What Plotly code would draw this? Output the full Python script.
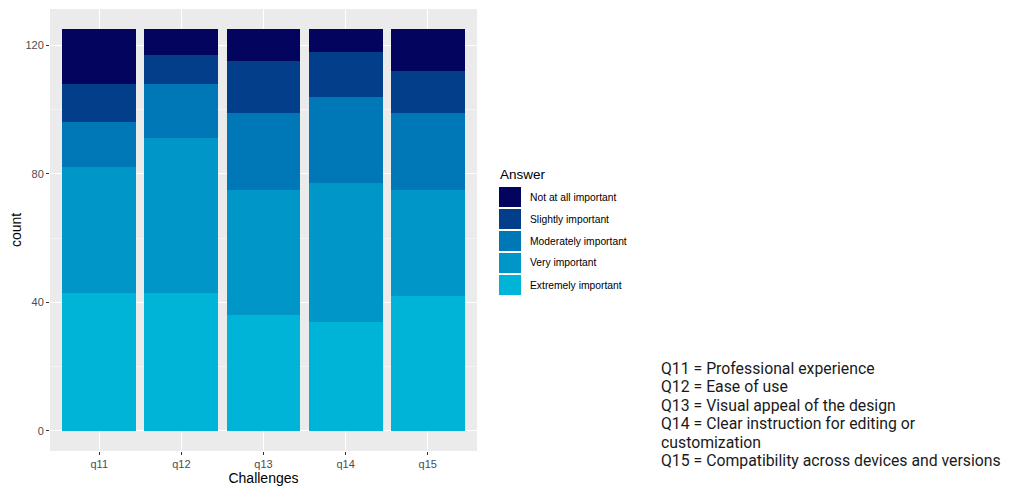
import plotly.graph_objects as go

# ---- data ----
challenges = ["q11", "q12", "q13", "q14", "q15"]
answers = ["Extremely important", "Very important", "Moderately important",
           "Slightly important", "Not at all important"]
extremely = [43, 43, 36, 34, 42]
very = [39, 48, 39, 43, 33]
moderately = [14, 17, 24, 27, 24]
slightly = [12, 9, 16, 14, 13]
not_at_all = [17, 8, 10, 7, 13]
y_ticks = [0, 40, 80, 120]
notes = ["Q11 = Professional experience",
         "Q12 = Ease of use",
         "Q13 = Visual appeal of the design",
         "Q14 = Clear instruction for editing or",
         "customization",
         "Q15 = Compatibility across devices and versions"]

series = [extremely, very, moderately, slightly, not_at_all]
colors = ["#00b4d8", "#0096c7", "#0077b6", "#023e8a", "#03045e"]

# the page body has an 8px margin; work in screen pixels and shift
OFF = 8
W, H = 1024 - OFF, 492 - OFF
PL, PR, PT, PB = 50, 477, 9, 451  # panel edges in screen pixels
L, T = PL - OFF, PT - OFF
R = W - (PR - OFF)
B = H - (PB - OFF)
pw, ph = PR - PL, PB - PT


def px(x):
    return (x - PL) / pw


def py(y):
    return 1 - (y - PT) / ph


fig = go.Figure()
for name, vals, col in zip(answers, series, colors):
    fig.add_trace(go.Bar(x=challenges, y=vals, name=name, marker_color=col,
                         marker_line_width=0, width=0.9, showlegend=False))

total = max(sum(v) for v in zip(*series))
pad = total * 0.05

fig.update_layout(
    width=W, height=H, barmode="stack", bargap=0.1,
    margin=dict(l=L, r=R, t=T, b=B, autoexpand=False),
    paper_bgcolor="white", plot_bgcolor="#EBEBEB",
    font=dict(family="Liberation Sans, Arial, sans-serif", color="#4D4D4D"),
    xaxis=dict(range=[-0.6, 4.6], showgrid=True, gridcolor="white", gridwidth=1.2,
               automargin=False,
               ticks="outside", ticklen=3, tickcolor="#333333",
               tickfont=dict(size=11, color="#4D4D4D"), zeroline=False,
               title=dict(text="Challenges", font=dict(size=14, color="black"), standoff=1)),
    yaxis=dict(range=[-pad, total + pad], tickvals=y_ticks, showgrid=True,
               gridcolor="white", gridwidth=1.2, automargin=False,
               minor=dict(dtick=20, showgrid=True, gridcolor="#F4F4F4", gridwidth=0.6),
               ticks="outside", ticklen=3, tickcolor="#333333",
               tickfont=dict(size=11, color="#4D4D4D"), zeroline=False,
               title=dict(text="count", font=dict(size=14, color="black"), standoff=6)),
)

# custom ggplot-like legend
shapes = []
annotations = [dict(text="Answer", xref="paper", yref="paper", x=px(498), y=py(174),
                    xanchor="left", yanchor="middle", showarrow=False,
                    font=dict(size=13.5, color="black"))]
legend_order = list(zip(answers, colors))[::-1]
for i, (name, col) in enumerate(legend_order):
    top = 187 + 22 * i
    shapes.append(dict(type="rect", xref="paper", yref="paper",
                       x0=px(499), x1=px(521), y0=py(top), y1=py(top + 20),
                       fillcolor=col, line=dict(width=0)))
    annotations.append(dict(text=name, xref="paper", yref="paper", x=px(528),
                            y=py(top + 10), xanchor="left", yanchor="middle",
                            showarrow=False, font=dict(size=10.3, color="black")))

for i, line in enumerate(notes):
    annotations.append(dict(text=line, xref="paper", yref="paper", x=px(660),
                            y=py(368 + 18.6 * i), xanchor="left", yanchor="middle",
                            showarrow=False, borderpad=0,
                            font=dict(family="Roboto", size=15.8, color="#1a1a1a")))

fig.update_layout(shapes=shapes, annotations=annotations)
fig.write_html("out.html")
